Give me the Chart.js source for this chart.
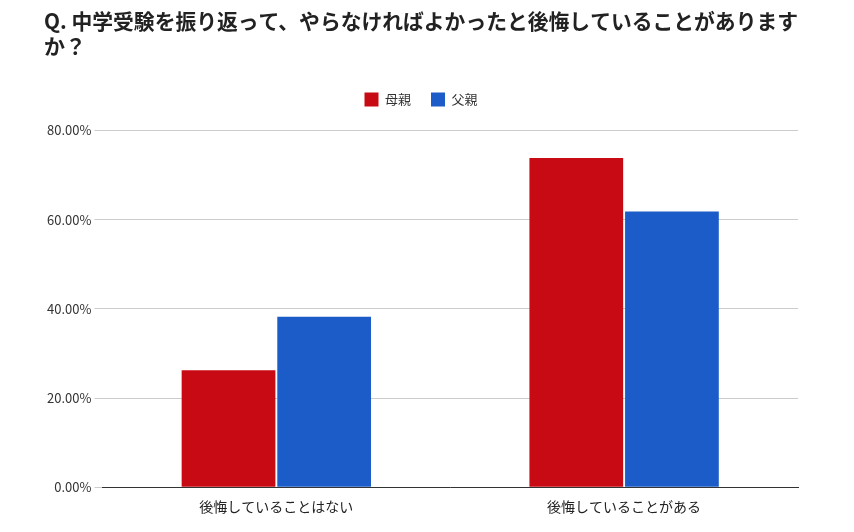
<!DOCTYPE html>
<html><head><meta charset="utf-8">
<script src="https://cdn.jsdelivr.net/npm/chart.js"></script>
<style>html,body{margin:0;background:#fff}#w{width:854px;height:532px}</style>
</head><body><div id="w"><canvas id="c"></canvas></div>
<script>
const categories=['後悔していることはない','後悔していることがある'];
const mother=[26.2,73.8];
const father=[38.2,61.8];
const seriesNames=['母親','父親'];
const F='"Noto Sans CJK JP","Noto Sans",sans-serif';
const legendGap={id:'lg',beforeInit(c){const f=c.legend.fit;c.legend.fit=function(){f.bind(c.legend)();this.height+=14;};}};
new Chart(document.getElementById('c'),{
type:'bar',
plugins:[legendGap],
data:{labels:categories,datasets:[
{label:seriesNames[0],data:mother,backgroundColor:'#c80a14',categoryPercentage:0.55,barPercentage:0.98},
{label:seriesNames[1],data:father,backgroundColor:'#1c5cc8',categoryPercentage:0.55,barPercentage:0.98}]},
options:{responsive:true,maintainAspectRatio:false,animation:false,
layout:{padding:{left:44,right:56,top:8,bottom:14}},
plugins:{
title:{display:true,align:'start',text:['Q. 中学受験を振り返って、やらなければよかったと後悔していることがありますか？'.slice(0,38),'か？'],font:{family:F,size:21,weight:'bold'},color:'#222',padding:{top:0,bottom:14},fullSize:true},
legend:{labels:{boxWidth:14,boxHeight:14,font:{family:F,size:13},color:'#333',padding:20}},
tooltip:{enabled:false}},
scales:{
x:{grid:{display:false},border:{color:'#333'},ticks:{font:{family:F,size:14},color:'#222'}},
y:{min:0,max:80,ticks:{stepSize:20,font:{family:F,size:13},color:'#333',callback:v=>v.toFixed(2)+'%'},grid:{color:'#ccc'},border:{display:false}}}}
});
</script></body></html>
